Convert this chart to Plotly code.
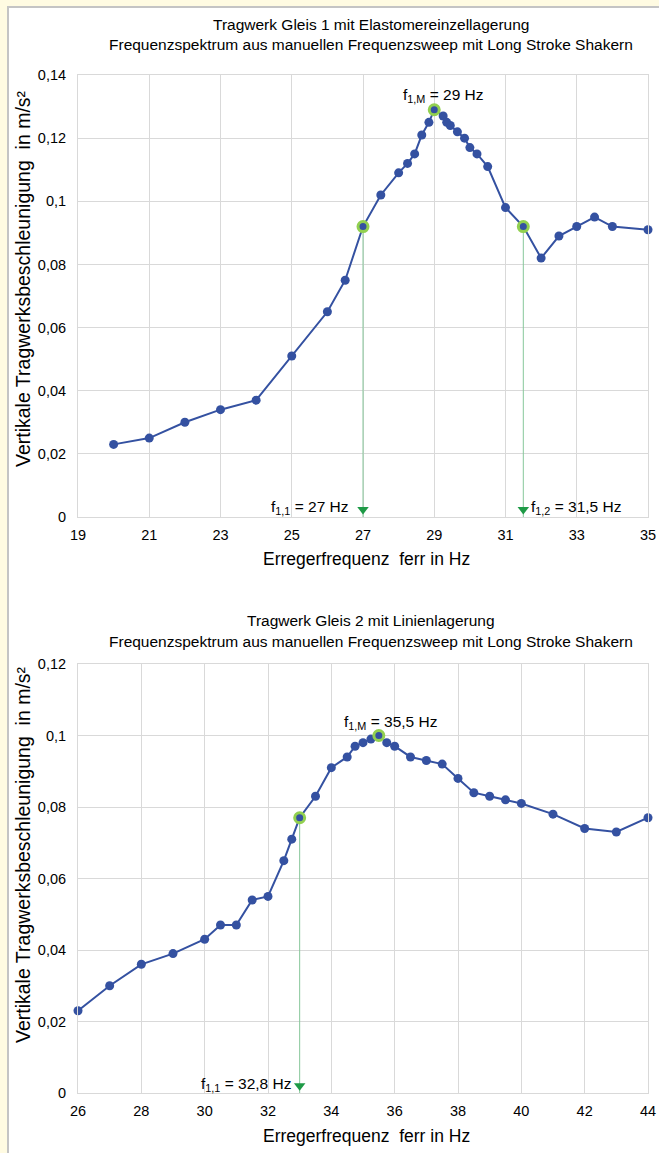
import plotly.graph_objects as go

# ---------------- data ----------------
freq1 = [20, 21, 22, 23, 24, 25, 26, 26.5, 27, 27.5, 28, 28.25, 28.45, 28.65, 28.85, 29,
         29.25, 29.35, 29.45, 29.65, 29.85, 30, 30.2, 30.5, 31, 31.5, 32, 32.5, 33, 33.5, 34, 35]
acc1 = [0.023, 0.025, 0.030, 0.034, 0.037, 0.051, 0.065, 0.075, 0.092, 0.102, 0.109, 0.112,
        0.115, 0.121, 0.125, 0.129, 0.127, 0.125, 0.124, 0.122, 0.120, 0.117, 0.115, 0.111,
        0.098, 0.092, 0.082, 0.089, 0.092, 0.095, 0.092, 0.091]
marked1 = [27, 29, 31.5]
arrows1 = [27, 31.5]

freq2 = [26, 27, 28, 29, 30, 30.5, 31, 31.5, 32, 32.5, 32.75, 33, 33.5, 34, 34.5, 34.75, 35,
         35.25, 35.5, 35.75, 36, 36.5, 37, 37.5, 38, 38.5, 39, 39.5, 40, 41, 42, 43, 44]
acc2 = [0.023, 0.030, 0.036, 0.039, 0.043, 0.047, 0.047, 0.054, 0.055, 0.065, 0.071, 0.077,
        0.083, 0.091, 0.094, 0.097, 0.098, 0.099, 0.100, 0.098, 0.097, 0.094, 0.093, 0.092,
        0.088, 0.084, 0.083, 0.082, 0.081, 0.078, 0.074, 0.073, 0.077]
marked2 = [33, 35.5]
arrows2 = [33]

title1 = ["Tragwerk Gleis 1 mit Elastomereinzellagerung",
          "Frequenzspektrum aus manuellen Frequenzsweep mit Long Stroke Shakern"]
title2 = ["Tragwerk Gleis 2 mit Linienlagerung",
          "Frequenzspektrum aus manuellen Frequenzsweep mit Long Stroke Shakern"]
ytick1_vals = [0, 0.02, 0.04, 0.06, 0.08, 0.10, 0.12, 0.14]
ytick1_text = ["0", "0,02", "0,04", "0,06", "0,08", "0,1", "0,12", "0,14"]
ytick2_vals = [0, 0.02, 0.04, 0.06, 0.08, 0.10, 0.12]
ytick2_text = ["0", "0,02", "0,04", "0,06", "0,08", "0,1", "0,12"]
xlabel = "Erregerfrequenz  ferr in Hz"
ylabel = "Vertikale Tragwerksbeschleunigung  in m/s²"
labels1 = {"peak": "f<sub>1,M</sub> = 29 Hz", "left": "f<sub>1,1</sub> = 27 Hz",
           "right": "f<sub>1,2</sub> = 31,5 Hz"}
labels2 = {"peak": "f<sub>1,M</sub> = 35,5 Hz", "left": "f<sub>1,1</sub> = 32,8 Hz"}

# ---------------- styling ----------------
W, H = 659, 1153
ML, MR, MT, MB = 78, 11, 75, 60
PW, PH = W - ML - MR, H - MT - MB
FONT = "Liberation Sans, Arial, sans-serif"
BLUE = "#3451A1"
RING = "#92D050"
VLINE = "#86C79A"
ARROW = "#1E9A46"
GRID = "#D9D9D9"
PAGE = "#FFFBE2"


def px_x(px):
    return (px - ML) / PW


def px_y(py):
    return (H - MB - py) / PH


lookup1 = dict(zip(freq1, acc1))
lookup2 = dict(zip(freq2, acc2))

fig = go.Figure()


def add_chart(freq, acc, lookup, marked, arrows, xa, ya, ymax):
    for f in arrows:
        fig.add_trace(go.Scatter(x=[f, f], y=[lookup[f], 0], mode="lines",
                                 line=dict(color=VLINE, width=1), xaxis=xa, yaxis=ya,
                                 hoverinfo="skip", showlegend=False))
    fig.add_trace(go.Scatter(x=freq, y=acc, mode="lines+markers",
                             line=dict(color=BLUE, width=2),
                             marker=dict(color=BLUE, size=9),
                             xaxis=xa, yaxis=ya, cliponaxis=False, showlegend=False))
    fig.add_trace(go.Scatter(x=marked, y=[lookup[f] for f in marked], mode="markers",
                             marker=dict(color=BLUE, size=10, line=dict(color=RING, width=3)),
                             xaxis=xa, yaxis=ya, cliponaxis=False, showlegend=False))
    fig.add_trace(go.Scatter(x=arrows, y=[ymax * 0.017] * len(arrows), mode="markers",
                             marker=dict(symbol="triangle-down", color=ARROW, size=10),
                             xaxis=xa, yaxis=ya, cliponaxis=False, showlegend=False))


add_chart(freq1, acc1, lookup1, marked1, arrows1, "x", "y", 0.14)
add_chart(freq2, acc2, lookup2, marked2, arrows2, "x2", "y2", 0.12)

axis_common = dict(showgrid=True, gridcolor=GRID, gridwidth=1, zeroline=False,
                   showline=True, linecolor=GRID, linewidth=1, mirror=True,
                   ticks="outside", tickcolor="rgba(0,0,0,0)", automargin=False,
                   tickfont=dict(family=FONT, size=14.5, color="#000"))

fig.update_layout(
    width=W, height=H, autosize=False,
    margin=dict(l=ML, r=MR, t=MT, b=MB, autoexpand=False),
    paper_bgcolor=PAGE, plot_bgcolor="white",
    font=dict(family=FONT, color="#000"),
    xaxis=dict(domain=[0, 1], range=[19, 35], dtick=2, tick0=19, anchor="y", ticklen=5,
               **axis_common),
    yaxis=dict(domain=[px_y(517), 1], range=[0, 0.14], tickvals=ytick1_vals,
               ticktext=ytick1_text, anchor="x", ticklen=8, **axis_common),
    xaxis2=dict(domain=[0, 1], range=[26, 44], dtick=2, tick0=26, anchor="y2", ticklen=5,
                **axis_common),
    yaxis2=dict(domain=[0, px_y(664)], range=[0, 0.12], tickvals=ytick2_vals,
                ticktext=ytick2_text, anchor="x2", ticklen=8, **axis_common),
)

# background card (white panel with thin grey edge on a pale yellow page)
fig.add_shape(type="rect", xref="paper", yref="paper", layer="below",
              x0=px_x(7), x1=px_x(W + 5), y0=px_y(H + 5), y1=px_y(6),
              fillcolor="#C4C4C4", line=dict(width=0))
fig.add_shape(type="rect", xref="paper", yref="paper", layer="below",
              x0=px_x(9), x1=px_x(W + 5), y0=px_y(H + 5), y1=px_y(8),
              fillcolor="white", line=dict(width=0))

ann = []
# titles
for text, py in zip(title1, [25, 45]):
    ann.append(dict(text=text, x=px_x(371), y=px_y(py), xref="paper", yref="paper",
                    showarrow=False, font=dict(size=15.5), xanchor="center", yanchor="middle"))
for text, py in zip(title2, [620, 641]):
    ann.append(dict(text=text, x=px_x(371), y=px_y(py), xref="paper", yref="paper",
                    showarrow=False, font=dict(size=15.5), xanchor="center", yanchor="middle"))
# axis titles
for py in [559, 1136]:
    ann.append(dict(text=xlabel, x=px_x(366), y=px_y(py), xref="paper", yref="paper",
                    showarrow=False, font=dict(size=17.5), xanchor="center", yanchor="middle"))
for py in [279, 855]:
    ann.append(dict(text=ylabel, x=px_x(23), y=px_y(py), xref="paper", yref="paper",
                    textangle=-90, showarrow=False, font=dict(size=19.5),
                    xanchor="center", yanchor="middle"))
# frequency labels chart 1
ann.append(dict(text=labels1["peak"], x=29, y=lookup1[29], xref="x", yref="y",
                showarrow=False, xshift=9, yshift=14, font=dict(size=15.5),
                xanchor="center", yanchor="middle"))
ann.append(dict(text=labels1["left"], x=27, y=0, xref="x", yref="y", showarrow=False,
                xshift=-12, yshift=10, font=dict(size=15.5), xanchor="right", yanchor="middle"))
ann.append(dict(text=labels1["right"], x=31.5, y=0, xref="x", yref="y", showarrow=False,
                xshift=6, yshift=10, font=dict(size=15.5), xanchor="left", yanchor="middle"))
# frequency labels chart 2
ann.append(dict(text=labels2["peak"], x=35.5, y=lookup2[35.5], xref="x2", yref="y2",
                showarrow=False, xshift=12, yshift=13, font=dict(size=15.5),
                xanchor="center", yanchor="middle"))
ann.append(dict(text=labels2["left"], x=33, y=0, xref="x2", yref="y2", showarrow=False,
                xshift=-7, yshift=9, font=dict(size=15.5), xanchor="right", yanchor="middle"))

fig.update_layout(annotations=ann)

fig.write_html(
    "out.html",
    config={"responsive": False, "displayModeBar": False},
    post_script=("document.documentElement.style.margin='0';"
                 "document.documentElement.style.overflow='hidden';"
                 "document.body.style.margin='0';document.body.style.padding='0';"
                 "document.body.style.overflow='hidden';"
                 "document.body.style.background='" + PAGE + "';"),
)
